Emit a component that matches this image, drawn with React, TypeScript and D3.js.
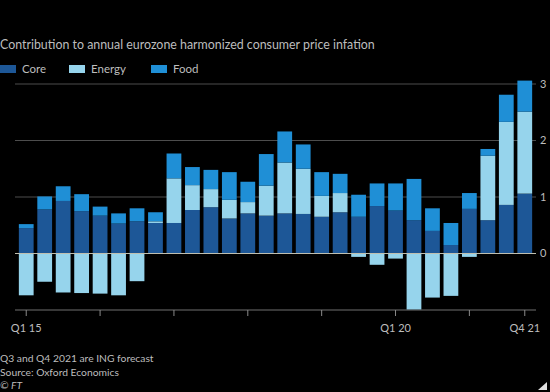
import React from "react";
import * as d3 from "d3";

// quarters Q1 2015 .. Q4 2021
const quarters: string[] = [];
for (let y = 15; y <= 21; y++) {
  for (let q = 1; q <= 4; q++) quarters.push(`Q${q} ${y}`);
}

const core = [
  0.45, 0.78, 0.93, 0.75, 0.67, 0.53, 0.57, 0.54,
  0.54, 0.77, 0.82, 0.62, 0.71, 0.67, 0.71, 0.7,
  0.65, 0.73, 0.65, 0.84, 0.76, 0.59, 0.4, 0.15,
  0.79, 0.59, 0.86, 1.06,
];
const energy = [
  -0.74, -0.5, -0.69, -0.7, -0.71, -0.74, -0.49, 0.03,
  0.79, 0.44, 0.32, 0.33, 0.2, 0.53, 0.9, 0.8,
  0.37, 0.34, -0.06, -0.2, -0.09, -0.99, -0.78, -0.75,
  -0.06, 1.14, 1.47, 1.45,
];
const food = [
  0.07, 0.23, 0.26, 0.3, 0.16, 0.18, 0.23, 0.16,
  0.44, 0.32, 0.34, 0.49, 0.36, 0.56, 0.55, 0.43,
  0.42, 0.34, 0.39, 0.4, 0.48, 0.73, 0.4, 0.39,
  0.28, 0.12, 0.48, 0.55,
];

const seriesNames = ["Core", "Energy", "Food"];
const colors = ["#1d5797", "#96d4ec", "#1f8fd6"];
const yTicks = [-1, 0, 1, 2, 3];
const xLabels = ["Q1 15", "Q1 20", "Q4 21"];

const width = 550;
const height = 392;
const font = "Lato, 'Open Sans', sans-serif";
const textColor = "#bdbdbd";

export default function App() {
  const rows = quarters.map((q, i) => ({
    q,
    Core: core[i],
    Energy: energy[i],
    Food: food[i],
  }));

  const stacked = d3
    .stack<any>()
    .keys(seriesNames)
    .offset(d3.stackOffsetDiverging)(rows);

  const x = d3
    .scaleBand()
    .domain(quarters)
    .range([17, 534])
    .paddingInner(0.2)
    .paddingOuter(0.1);

  const y = d3.scaleLinear().domain([-1, 3]).range([310, 84]);

  const tickQuarters = quarters.filter(
    (q, i) => q.startsWith("Q1") || i === quarters.length - 1
  );

  const color = d3.scaleOrdinal<string>().domain(seriesNames).range(colors);

  const legendX = [0, 69, 151];

  return (
    <svg
      width={width}
      height={height}
      style={{ position: "absolute", left: 0, top: 0, background: "#000" }}
    >
      <rect width={width} height={height} fill="#000" />
      <text x={0} y={49} fill={textColor} fontFamily={font} fontSize={12.4}>
        Contribution to annual eurozone harmonized consumer price infation
      </text>

      {seriesNames.map((s, i) => (
        <g key={s} transform={`translate(${legendX[i]},65)`}>
          <rect width={16} height={8} fill={color(s)} />
          <text x={22} y={8} fill={textColor} fontFamily={font} fontSize={11.5}>
            {s}
          </text>
        </g>
      ))}

      {/* gridlines */}
      {yTicks
        .filter((t) => t !== 0)
        .map((t) => (
          <line
            key={t}
            x1={15}
            x2={536}
            y1={y(t)}
            y2={y(t)}
            stroke={t === -1 ? "#707070" : "#4d4d4d"}
            strokeWidth={1}
          />
        ))}
      {yTicks
        .filter((t) => t >= 0)
        .map((t) => (
          <text
            key={t}
            x={540}
            y={y(t)}
            dy="0.35em"
            fill={textColor}
            fontFamily={font}
            fontSize={11}
          >
            {t}
          </text>
        ))}

      {/* bars */}
      {stacked.map((layer) => (
        <g key={layer.key} fill={color(layer.key)}>
          {layer.map((d, i) => (
            <rect
              key={i}
              x={x(quarters[i])}
              width={x.bandwidth()}
              y={y(Math.max(d[0], d[1]))}
              height={Math.abs(y(d[0]) - y(d[1]))}
            />
          ))}
        </g>
      ))}

      {/* zero line over bars */}
      <line x1={15} x2={536} y1={y(0)} y2={y(0)} stroke="#bfbfb0" strokeWidth={1} />

      {/* x ticks */}
      {tickQuarters.map((q) => {
        const cx = (x(q) as number) + x.bandwidth() / 2;
        return (
          <line
            key={q}
            x1={cx}
            x2={cx}
            y1={310}
            y2={316}
            stroke="#8a8a8a"
          />
        );
      })}
      {xLabels.map((q) => (
        <text
          key={q}
          x={(x(q) as number) + x.bandwidth() / 2}
          y={332}
          textAnchor="middle"
          fill={textColor}
          fontFamily={font}
          fontSize={11}
        >
          {q}
        </text>
      ))}

      <text x={0} y={362} fill={textColor} fontFamily={font} fontSize={10.3}>
        Q3 and Q4 2021 are ING forecast
      </text>
      <text x={0} y={376} fill={textColor} fontFamily={font} fontSize={10.3}>
        Source: Oxford Economics
      </text>
      <text
        x={0}
        y={389}
        fill={textColor}
        fontFamily={font}
        fontSize={10.3}
        fontStyle="italic"
      >
        © FT
      </text>
      <path d="M547,382 L547,390 L538,390 Z" fill="#e0e0e0" />
    </svg>
  );
}
